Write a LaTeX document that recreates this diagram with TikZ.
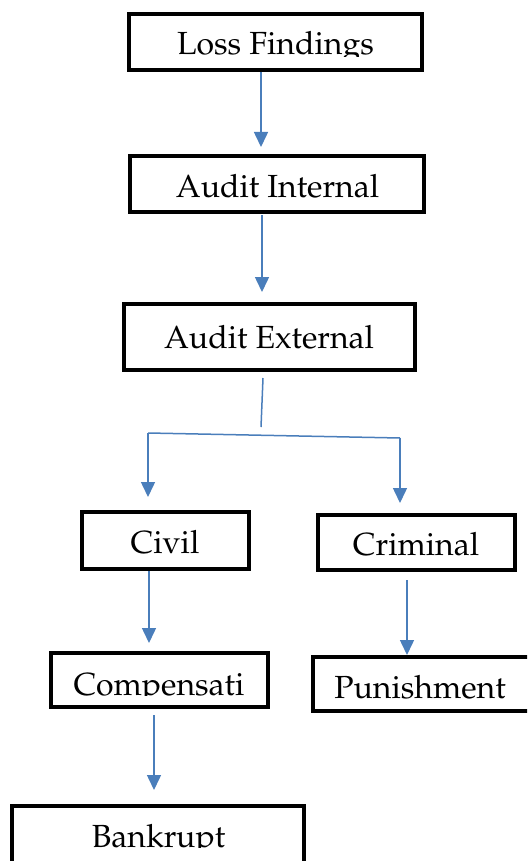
\documentclass[tikz,border=0pt]{standalone}
\usepackage[T1]{fontenc}
\usepackage{mathpazo}
\usetikzlibrary{arrows.meta}
\definecolor{arrblue}{HTML}{4A7EBB}
\tikzset{
  box/.style={draw=black, line width=4.5pt, fill=white, rectangle, inner sep=0pt},
  lbl/.style={anchor=base, inner sep=0pt, font=\fontsize{32}{38}\selectfont},
  conn/.style={draw=arrblue, line width=1.5pt},
  arr/.style={conn, -{Triangle[width=14pt,length=15pt]}}
}
\begin{document}
\begin{tikzpicture}[x=1pt,y=1pt]
\clip (0,0) rectangle (527,-861);
\fill[white] (0,0) rectangle (527,-861);
% boxes
\node[box, minimum width=293pt, minimum height=56pt] (lf) at (275.5,-42) {};
\node[box, minimum width=294pt, minimum height=56pt] (ai) at (277,-184) {};
\node[box, minimum width=291pt, minimum height=66pt] (ae) at (269.5,-337) {};
\node[box, minimum width=167pt, minimum height=57pt] (cv) at (165.5,-540.5) {};
\node[box, minimum width=197pt, minimum height=55pt] (cr) at (416.5,-542.5) {};
\node[box, minimum width=217pt, minimum height=54pt] (cp) at (159.5,-680) {};
\node[box, minimum width=222pt, minimum height=54pt] (pu) at (424,-684) {};
\node[box, minimum width=292pt, minimum height=64pt] (bk) at (158,-838) {};
% texts (clipped as in the reference)
\begin{scope}
\clip (129,-16) rectangle (422,-57);
\node[lbl] (lft) at (275.5,-55) {Loss Findings};
\end{scope}
\node[lbl] (ait) at (277.5,-197) {Audit Internal};
\node[lbl] (aet) at (269,-348) {Audit External};
\node[lbl] (cvt) at (165,-553) {Civil};
\node[lbl] (crt) at (416,-555) {Criminal};
\begin{scope}
\clip (53,-655) rectangle (266,-695);
\node[lbl] (cpt) at (159,-695) {Compensati};
\end{scope}
\begin{scope}
\clip (315,-659) rectangle (527,-698);
\node[lbl] (put) at (420,-698) {Punishment};
\end{scope}
\begin{scope}
\clip (14,-808) rectangle (302,-847);
\node[lbl] (bkt) at (158.5,-847) {Bankrupt};
\end{scope}
% connector coordinates
\coordinate (a1s) at (261,-72);   \coordinate (a1e) at (261,-147);
\coordinate (a2s) at (262,-215);  \coordinate (a2e) at (262,-292);
\coordinate (b0) at (263,-378);   \coordinate (b1) at (261,-427);
\coordinate (hl) at (148,-433);   \coordinate (hr) at (400,-438);
\coordinate (lae) at (148,-497);  \coordinate (rae) at (400,-503);
\coordinate (c1s) at (149,-571);  \coordinate (c1e) at (149,-643);
\coordinate (c2s) at (407,-580);  \coordinate (c2e) at (407,-655);
\coordinate (c3s) at (154,-715);  \coordinate (c3e) at (154,-790);
% connectors
\draw[arr] (a1s) -- (a1e);
\draw[arr] (a2s) -- (a2e);
\draw[conn] (b0) -- (b1);
\draw[conn] (hl) -- (hr);
\draw[arr] (hl) -- (lae);
\draw[arr] (hr) -- (rae);
\draw[arr] (c1s) -- (c1e);
\draw[arr] (c2s) -- (c2e);
\draw[arr] (c3s) -- (c3e);
\end{tikzpicture}
\end{document}
